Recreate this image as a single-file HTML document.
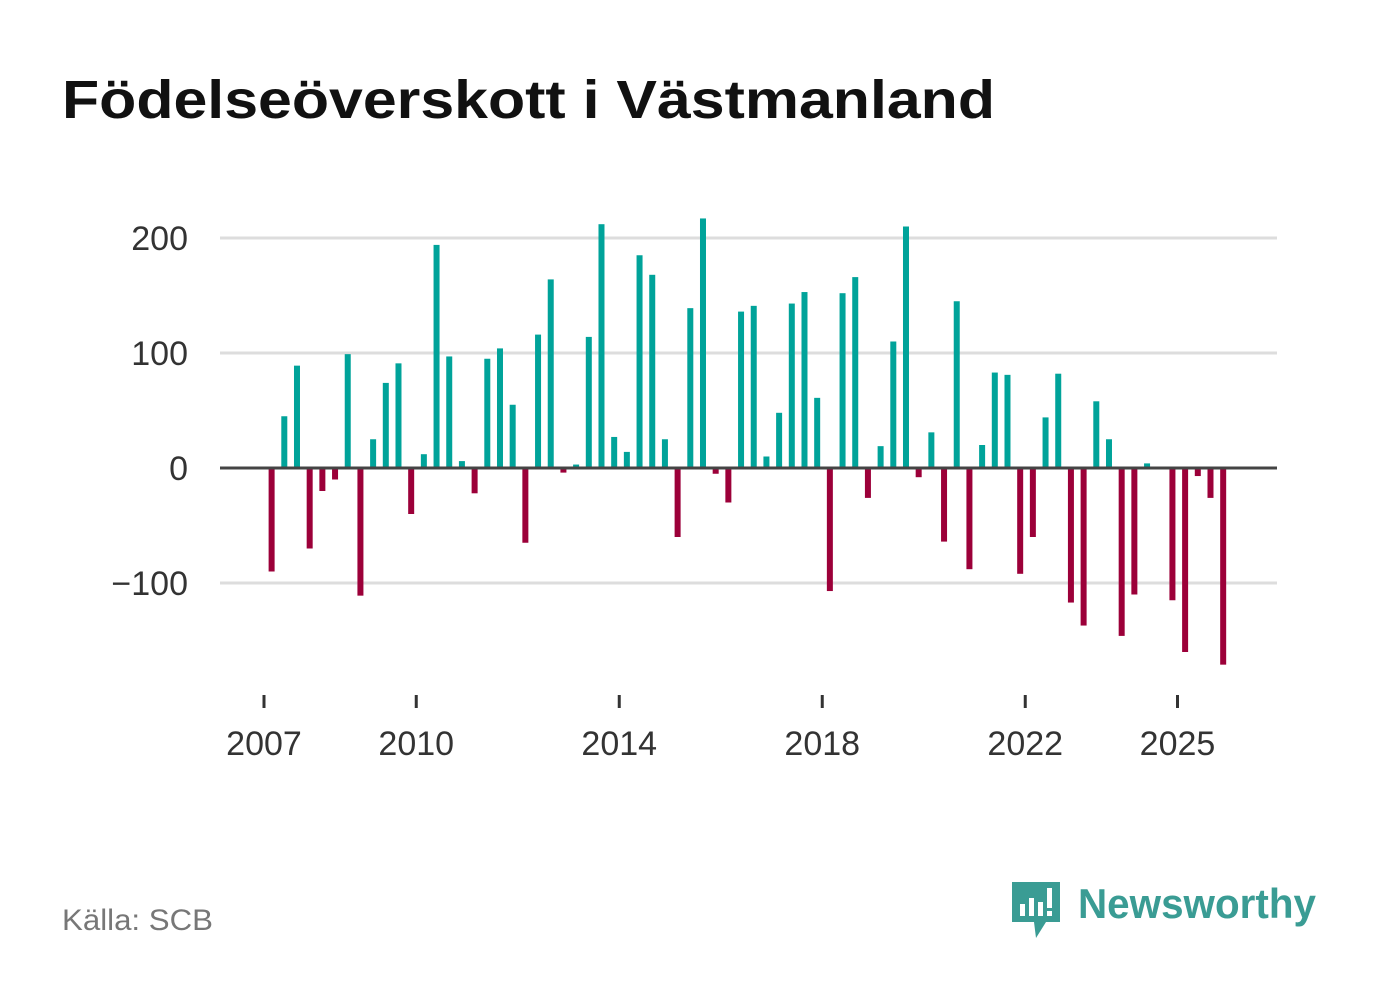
<!DOCTYPE html>
<html><head><meta charset="utf-8"><style>
body{margin:0;background:#fff;width:1382px;height:999px;overflow:hidden;font-family:"Liberation Sans",sans-serif}
</style></head><body>
<svg width="1382" height="999">
<text x="62" y="118" font-size="54" font-weight="bold" fill="#111" textLength="933" lengthAdjust="spacingAndGlyphs">Födelseöverskott i Västmanland</text>
<g id="grid"></g><g id="bars"></g><g id="axes"></g>
<text x="62" y="930" font-size="30" fill="#777" textLength="151" lengthAdjust="spacingAndGlyphs">Källa: SCB</text>
<g>
<path d="M1012 882 h48 v40 h-14 l-10 16 l-2 -16 h-22 z" fill="#3a9c94"/>
<rect x="1020" y="904" width="5" height="12" fill="#fff"/><rect x="1029" y="898" width="5" height="18" fill="#fff"/><rect x="1038" y="902" width="5" height="14" fill="#fff"/><rect x="1047" y="888" width="5" height="20" fill="#fff"/><rect x="1047" y="911" width="5" height="5" fill="#fff"/>
<text x="1078" y="918" font-size="42" font-weight="bold" fill="#3a9c94" textLength="238" lengthAdjust="spacingAndGlyphs">Newsworthy</text>
</g>
</svg>
<script>
const years=[2007,2008,2009,2010,2011,2012,2013,2014,2015,2016,2017,2018,2019,2020,2021,2022,2023,2024,2025];
const values=[-90,45,89,-70,-20,-10,99,-111,25,74,91,-40,12,194,97,6,-22,95,104,55,-65,116,164,-4,3,114,212,27,14,185,168,25,-60,139,217,-5,-30,136,141,10,48,143,153,61,-107,152,166,-26,19,110,210,-8,31,-64,145,-88,20,83,81,-92,-60,44,82,-117,-137,58,25,-146,-110,4,0,-115,-160,-7,-26,-171];
const yTicks=[-100,0,100,200];
const yTickLabels=["−100","0","100","200"];
const xTicks=[2007,2010,2014,2018,2022,2025];
const NS="http://www.w3.org/2000/svg";
const y=v=>468-v*1.15;
const xYear=yr=>264+(yr-2007)*50.75;
const xIdx=i=>264+(i+0.6)*50.75/4;
function mk(t,a,p){const e=document.createElementNS(NS,t);for(const k in a)e.setAttribute(k,a[k]);p.appendChild(e);return e;}
const grid=document.getElementById('grid'),bars=document.getElementById('bars'),axes=document.getElementById('axes');
yTicks.forEach((t,i)=>{
 if(t!==0){const l=mk('line',{x1:220,x2:1277,y1:y(t),y2:y(t),stroke:'#ddd','stroke-width':3},grid);
 
 }
 const tx=mk('text',{x:188,y:y(t)+12,'font-size':34,fill:'#333','text-anchor':'end'},axes);tx.textContent=yTickLabels[i];
 
 
});
values.forEach((v,i)=>{
 const r=mk('rect',{x:xIdx(i)-3,width:6,y:Math.min(y(v),y(0)),height:Math.abs(y(v)-y(0)),fill:v>=0?'#00a39a':'#9c0039'},bars);
 
 
});
const z=mk('line',{x1:220,x2:1277,y1:y(0),y2:y(0),stroke:'#444','stroke-width':3},axes);


xTicks.forEach(t=>{
 const l=mk('line',{x1:xYear(t),x2:xYear(t),y1:695,y2:708,stroke:'#333','stroke-width':3},axes);
 
 
 const tx=mk('text',{x:xYear(t),y:755,'font-size':34,fill:'#333','text-anchor':'middle'},axes);tx.textContent=t;
 
 
});
</script>
</body></html>
